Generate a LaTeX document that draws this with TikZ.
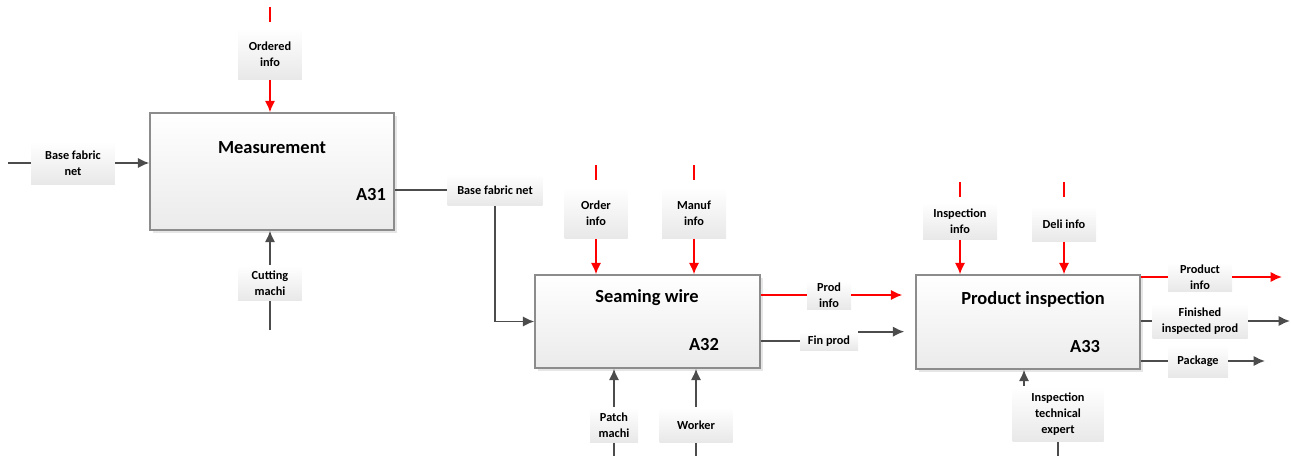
\documentclass[tikz,border=0pt]{standalone}
\usepackage{fontspec}
\setmainfont{Carlito}
\usetikzlibrary{arrows.meta,calc,positioning,shadows}

\begin{document}
\begin{tikzpicture}[x=0.02cm,y=-0.02cm]
	\useasboundingbox (0,0) rectangle (1291,456);

	\tikzstyle{actbox}=[draw=black!45,line width=0.8pt,top color=white,bottom color=black!8,
		drop shadow={opacity=0.2,shadow xshift=0.6mm,shadow yshift=-0.6mm}]
	\tikzstyle{acttitle}=[font=\bfseries\fontsize{10.5}{12}\selectfont,inner sep=0pt]
	\tikzstyle{actid}=[font=\bfseries\fontsize{10.5}{12}\selectfont,inner sep=0pt]
	\tikzstyle{tag}=[top color=white,bottom color=black!9,align=center,inner sep=1pt,
		font=\bfseries\fontsize{7}{9}\selectfont]
	\tikzstyle{l} = [draw,line width=1.1pt,black!70]
	\tikzstyle{la} = [l,-{Latex[length=2.3mm,width=2.1mm]}]
	\tikzstyle{r} = [draw,line width=1.1pt,red]
	\tikzstyle{ra} = [r,-{Latex[length=2.3mm,width=2.1mm]}]

	%% activity boxes
	\node [actbox,minimum width=4.88cm,minimum height=2.34cm] (meas) at (272,171.5) {};
	\node [acttitle] (meastitle) at (272,148) {Measurement};
	\node [actid] (measid) at (371,195) {A31};

	\node [actbox,minimum width=4.5cm,minimum height=1.86cm] (seam) at (647.5,321.5) {};
	\node [acttitle] (seamtitle) at (647,298) {Seaming wire};
	\node [actid] (seamid) at (704,345) {A32};

	\node [actbox,minimum width=4.48cm,minimum height=1.88cm] (insp) at (1028,322) {};
	\node [acttitle] (insptitle) at (1033,299) {Product inspection};
	\node [actid] (inspid) at (1085,347) {A33};

	%% labels
	\node [tag,minimum width=1.28cm,minimum height=1.04cm] (ordered) at (270,54) {Ordered\\info};
	\node [tag,minimum width=1.68cm,minimum height=0.86cm] (basefab) at (73,163) {Base fabric\\net};
	\node [tag,minimum width=1.28cm,minimum height=0.7cm] (cutting) at (270,283) {Cutting\\machi};
	\node [tag,minimum width=1.9cm,minimum height=0.64cm] (basefabtwo) at (495,190) {Base fabric net};

	\node [tag,minimum width=1.26cm,minimum height=1.02cm] (orderinfo) at (596,213) {Order\\info};
	\node [tag,minimum width=1.28cm,minimum height=1.02cm] (manuf) at (694,213) {Manuf\\info};
	\node [tag,minimum width=0.96cm,minimum height=0.7cm] (patch) at (614,425) {Patch\\machi};
	\node [tag,minimum width=1.46cm,minimum height=0.7cm] (worker) at (696,425) {Worker};
	\node [tag,minimum width=0.88cm,minimum height=0.5cm] (prodinfo) at (829,295) {Prod\\info};
	\node [tag,minimum width=1.16cm,minimum height=0.36cm] (finprod) at (829,341) {Fin prod};

	\node [tag,minimum width=1.48cm,minimum height=0.74cm] (inspinfo) at (960,221) {Inspection\\info};
	\node [tag,minimum width=1.28cm,minimum height=0.7cm] (deli) at (1064,224) {Deli info};
	\node [tag,minimum width=1.28cm,minimum height=0.58cm] (productinfo) at (1200,277) {Product\\info};
	\node [tag,minimum width=1.9cm,minimum height=0.7cm] (finished) at (1200,321) {Finished\\inspected prod};
	\node [tag,minimum width=1.2cm,minimum height=0.64cm] (package) at (1198,361) {Package};
	\node [tag,minimum width=1.82cm,minimum height=1.1cm] (inspexp) at (1058,414) {Inspection\\technical\\expert};

	%% free ends
	\coordinate (ordered0) at (270,7);
	\coordinate (basefab0) at (8,163);
	\coordinate (cutting0) at (270,330);
	\coordinate (orderinfo0) at (596,165);
	\coordinate (manuf0) at (694,165);
	\coordinate (patch0) at (614,456);
	\coordinate (worker0) at (696,456);
	\coordinate (inspinfo0) at (960,182);
	\coordinate (deli0) at (1064,182);
	\coordinate (inspexp0) at (1058,456);
	\coordinate (inspexp1) at (1024,386);
	\coordinate (productinfo1) at (1282,277);
	\coordinate (finished1) at (1290,321);
	\coordinate (package1) at (1265,361);

	%% Measurement
	\draw [r,shorten >=0.12cm] (ordered0) -- (ordered.north);
	\draw [ra] (ordered.south) -- (ordered.south |- meas.north);
	\draw [l] (basefab0) -- (basefab.west);
	\draw [la] (basefab.east) -- (basefab.east -| meas.west);
	\draw [l] (cutting0) -- (cutting.south);
	\draw [la] (cutting.north) -- (cutting.north |- meas.south);
	\draw [l] (basefabtwo.west -| meas.east) -- (basefabtwo.west);
	\draw [la] (basefabtwo.south) |- (seam.west);

	%% Seaming wire
	\draw [r,shorten >=0.14cm] (orderinfo0) -- (orderinfo.north);
	\draw [ra] (orderinfo.south) -- (orderinfo.south |- seam.north);
	\draw [r,shorten >=0.14cm] (manuf0) -- (manuf.north);
	\draw [ra] (manuf.south) -- (manuf.south |- seam.north);
	\draw [l] (patch0) -- (patch.south);
	\draw [la] (patch.north) -- (patch.north |- seam.south);
	\draw [l] (worker0) -- (worker.south);
	\draw [la] (worker.north) -- (worker.north |- seam.south);
	\draw [r] (prodinfo.west -| seam.east) -- (prodinfo.west);
	\draw [ra,shorten >=0.26cm] (prodinfo.east) -- (prodinfo.east -| insp.west);
	\draw [l] (finprod.west -| seam.east) -- (finprod.west);
	\draw [la,shorten >=0.22cm] (finprod.north east) -- (finprod.north east -| insp.west);

	%% Product inspection
	\draw [r,shorten >=0.1cm] (inspinfo0) -- (inspinfo.north);
	\draw [ra] (inspinfo.south) -- (inspinfo.south |- insp.north);
	\draw [r,shorten >=0.18cm] (deli0) -- (deli.north);
	\draw [ra] (deli.south) -- (deli.south |- insp.north);
	\draw [l] (inspexp0) -- (inspexp.south);
	\draw [la] (inspexp1) -- (inspexp1 |- insp.south);
	\draw [r] (productinfo.west -| insp.east) -- (productinfo.west);
	\draw [ra] (productinfo.east) -- (productinfo1);
	\draw [l] (finished.west -| insp.east) -- (finished.west);
	\draw [la] (finished.east) -- (finished1);
	\draw [l] (package.west -| insp.east) -- (package.west);
	\draw [la] (package.east) -- (package1);
\end{tikzpicture}
\end{document}
